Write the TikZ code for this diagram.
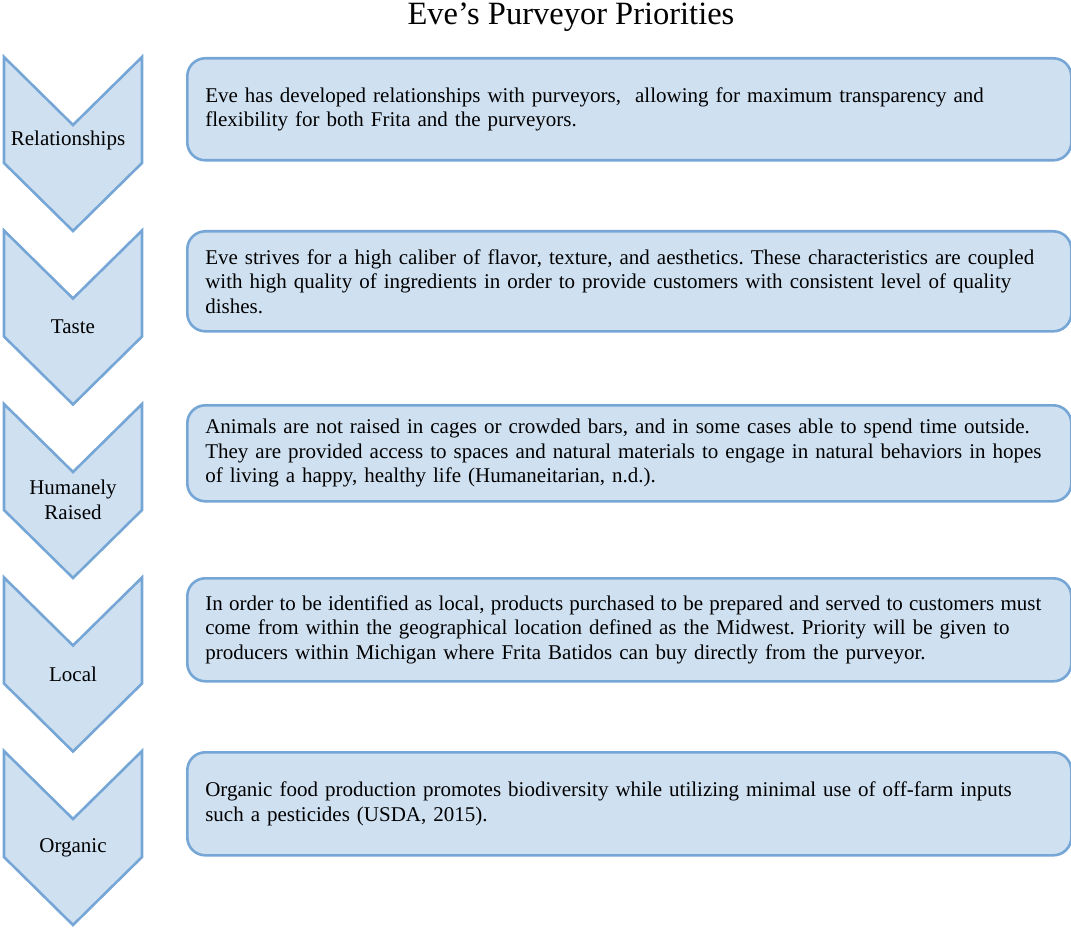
\documentclass[tikz,border=0pt]{standalone}
\usepackage{fontspec}
\setmainfont{Liberation Serif}
\frenchspacing
\definecolor{chevfill}{RGB}{207,224,241}
\definecolor{chevline}{RGB}{118,166,214}
\tikzset{
  chevshape/.style={fill=chevfill, draw=chevline, line width=2.6pt, line join=miter},
  chevlabel/.style={font=\fontsize{21}{24.5}\selectfont, align=center, inner sep=0pt},
  descbox/.style={fill=chevfill, draw=chevline, line width=2.6pt, rounded corners=18pt,
    anchor=north west, minimum width=884pt, text width=848pt, inner xsep=18pt, inner ysep=0pt,
    align=left, font=\fontsize{21}{24.5}\selectfont},
}
% chevron: #1 top edge, #2 label node name, #3 label text, #4 label position
\newcommand{\chevron}[4]{%
  \path[chevshape] (4,#1) -- (73,#1+68) -- (142,#1) -- (142,#1+106) -- (73,#1+174) -- (4,#1+106) -- cycle;
  \node[chevlabel] (#2) at (#4) {#3};
}
\begin{document}
\begin{tikzpicture}[x=1pt,y=-1pt]
\useasboundingbox (0,0) rectangle (1071,928);
\node[font=\fontsize{32.5}{38}\selectfont, inner sep=0pt] (title) at (571,17) {Eve’s Purveyor Priorities};

\chevron{57}{c1}{Relationships}{68,140}
\chevron{230.5}{c2}{Taste}{73,326.5}
\chevron{404}{c3}{Humanely\\Raised}{73,500}
\chevron{577.5}{c4}{Local}{73,674}
\chevron{751}{c5}{Organic}{73,848}

\node[descbox, minimum height=102pt] (b1) at (186,57) {Eve has developed relationships with purveyors,\ \ allowing for maximum transparency and\\flexibility for both Frita and the purveyors.};
\node[descbox, minimum height=100pt] (b2) at (186,230) {Eve strives for a high caliber of flavor, texture, and aesthetics. These characteristics are coupled\\with high quality of ingredients in order to provide customers with consistent level of quality\\dishes.};
\node[descbox, minimum height=96pt] (b3) at (186,404) {Animals are not raised in cages or crowded bars, and in some cases able to spend time outside.\\They are provided access to spaces and natural materials to engage in natural behaviors in hopes\\of living a happy, healthy life (Humaneitarian, n.d.).};
\node[descbox, minimum height=103pt] (b4) at (186,577) {{\spaceskip=5pt plus 3pt minus 3pt\relax\makebox[836pt][s]{In order to be identified as local, products purchased to be prepared and served to customers must}}\\come from within the geographical location defined as the Midwest. Priority will be given to\\producers within Michigan where Frita Batidos can buy directly from the purveyor.};
\node[descbox, minimum height=103pt] (b5) at (186,751) {Organic food production promotes biodiversity while utilizing minimal use of off-farm inputs\\such a pesticides (USDA, 2015).};
\end{tikzpicture}
\end{document}
